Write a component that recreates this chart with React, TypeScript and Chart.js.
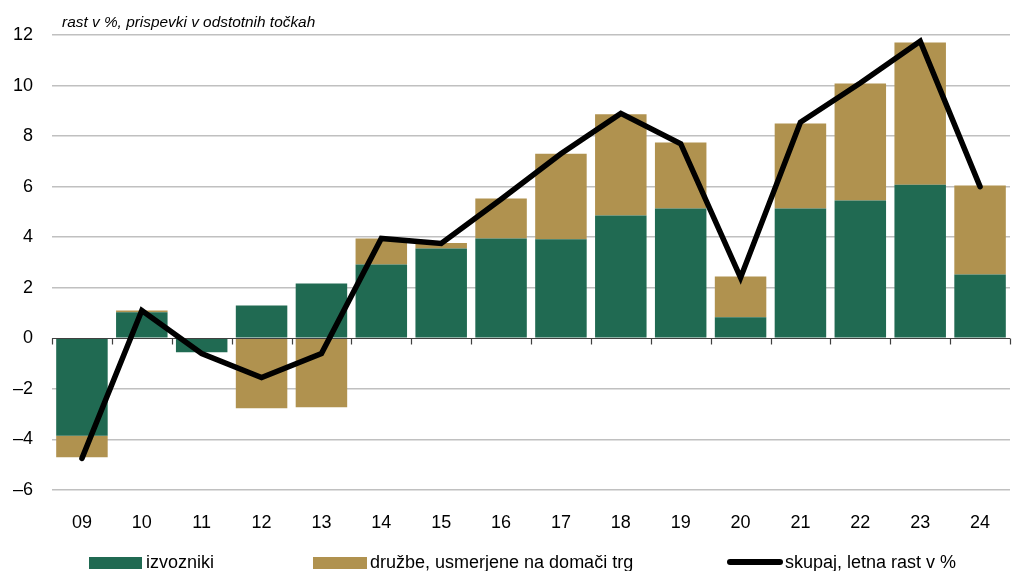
import React, { useEffect, useRef } from "react";
import { Chart, registerables } from "chart.js";

Chart.register(...registerables);

const categories = ["09", "10", "11", "12", "13", "14", "15", "16", "17", "18", "19", "20", "21", "22", "23", "24"];
const exporters = [-3.85, 1.03, -0.55, 1.3, 2.17, 2.92, 3.55, 3.95, 3.92, 4.86, 5.14, 0.83, 5.14, 5.45, 6.08, 2.53];
const domestic = [-0.85, 0.07, 0, -2.77, -2.73, 1.03, 0.22, 1.58, 3.38, 4.0, 2.61, 1.62, 3.36, 4.63, 5.62, 3.52];
const total = [-4.75, 1.1, -0.6, -1.55, -0.6, 3.95, 3.75, 5.5, 7.3, 8.9, 7.7, 2.4, 8.55, 10.1, 11.75, 6.0];
const yTicks = [12, 10, 8, 6, 4, 2, 0, -2, -4, -6];

const GREEN = "#206a52";
const TAN = "#b0924f";
const FONT = "'Liberation Sans', Arial, sans-serif";

const zeroLinePlugin = {
  id: "zeroLine",
  beforeDatasetDraw(chart: any, args: any) {
    if (args.index !== 2) return;
    const { ctx, chartArea, scales } = chart;
    const y0 = Math.round(scales.y.getPixelForValue(0)) + 0.5;
    ctx.save();
    ctx.strokeStyle = "#404040";
    ctx.lineWidth = 1.2;
    ctx.beginPath();
    ctx.moveTo(chartArea.left, y0);
    ctx.lineTo(chartArea.right, y0);
    const n = categories.length;
    const w = (chartArea.right - chartArea.left) / n;
    for (let i = 0; i <= n; i++) {
      const x = Math.round(chartArea.left + i * w) + 0.5;
      ctx.moveTo(x, y0);
      ctx.lineTo(x, y0 + 6);
    }
    ctx.stroke();
    ctx.restore();
  },
};

export default function App() {
  const ref = useRef<HTMLCanvasElement | null>(null);
  useEffect(() => {
    document.body.style.margin = "0";
    const chart = new Chart(ref.current as HTMLCanvasElement, {
      type: "bar",
      data: {
        labels: categories,
        datasets: [
          {
            type: "bar",
            label: "izvozniki",
            data: exporters,
            backgroundColor: GREEN,
            borderWidth: 0,
            stack: "s",
            barPercentage: 0.86,
            categoryPercentage: 1,
            order: 2,
          } as any,
          {
            type: "bar",
            label: "družbe, usmerjene na domači trg",
            data: domestic,
            backgroundColor: TAN,
            borderWidth: 0,
            stack: "s",
            barPercentage: 0.86,
            categoryPercentage: 1,
            order: 2,
          } as any,
          {
            type: "line",
            label: "skupaj, letna rast v %",
            data: total,
            borderColor: "#000000",
            borderWidth: 5.5,
            pointRadius: 0,
            tension: 0,
            borderCapStyle: "round",
            borderJoinStyle: "miter",
            stack: "line",
            order: 1,
          } as any,
        ],
      },
      options: {
        responsive: false,
        animation: false,
        devicePixelRatio: 1,
        layout: { padding: { top: 35, right: 9, bottom: 41, left: 0 } },
        plugins: {
          legend: { display: false },
          title: { display: false },
          tooltip: { enabled: false },
        },
        scales: {
          x: {
            stacked: true,
            offset: true,
            grid: { display: false },
            border: { display: false },
            ticks: {
              color: "#000",
              font: { family: FONT, size: 18 },
              padding: 14,
              maxRotation: 0,
            },
            afterFit: (s: any) => {
              s.height = 40;
            },
          },
          y: {
            stacked: true,
            min: -6,
            max: 12,
            afterBuildTicks: (s: any) => {
              s.ticks = yTicks.map((v) => ({ value: v }));
            },
            afterFit: (s: any) => {
              s.width = 52;
            },
            grid: {
              color: (c: any) => (c.tick && c.tick.value === 0 ? "rgba(0,0,0,0)" : "#c0c0c0"),
              lineWidth: 1.5,
              drawTicks: false,
            },
            border: { display: false },
            ticks: {
              color: "#000",
              padding: 19,
              font: { family: FONT, size: 18 },
              callback: (v: any) => String(v).replace("-", "–"),
            },
          },
        },
      },
      plugins: [zeroLinePlugin],
    } as any);
    return () => chart.destroy();
  }, []);

  const legendText: React.CSSProperties = {
    position: "absolute",
    top: 551,
    fontFamily: FONT,
    fontSize: 18,
    color: "#000",
    whiteSpace: "nowrap",
    lineHeight: "22px",
  };

  return (
    <div style={{ position: "fixed", left: 0, top: 0, width: 1019, height: 571, overflow: "hidden", background: "#fff" }}>
      <canvas ref={ref} width={1019} height={571} style={{ position: "absolute", left: 0, top: 0 }} />
      <div
        style={{
          position: "absolute",
          left: 62,
          top: 13,
          fontFamily: FONT,
          fontStyle: "italic",
          fontSize: 15.4,
          color: "#000",
          whiteSpace: "nowrap",
        }}
      >
        rast v %, prispevki v odstotnih točkah
      </div>
      <div style={{ position: "absolute", left: 89, top: 557, width: 53, height: 12, background: GREEN }} />
      <div style={{ ...legendText, left: 146 }}>izvozniki</div>
      <div style={{ position: "absolute", left: 313, top: 557, width: 54, height: 12, background: TAN }} />
      <div style={{ ...legendText, left: 370 }}>družbe, usmerjene na domači trg</div>
      <div style={{ position: "absolute", left: 727, top: 559, width: 56, height: 6, background: "#000", borderRadius: 3 }} />
      <div style={{ ...legendText, left: 785 }}>skupaj, letna rast v %</div>
    </div>
  );
}
